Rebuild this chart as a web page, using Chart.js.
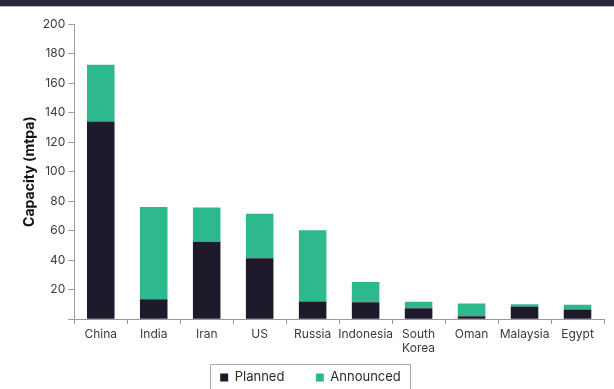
<!DOCTYPE html>
<html>
<head>
<meta charset="utf-8">
<script src="https://cdn.jsdelivr.net/npm/chart.js@4"></script>
<style>
  html, body { margin: 0; padding: 0; background: #fff; overflow: hidden; }
  #band { height: 6px; background: #28243a; border-bottom: 1px solid #b8b6c0; }
  #wrap { position: relative; width: 614px; height: 387px; }
</style>
</head>
<body>
<div id="band"></div>
<div id="wrap"><canvas id="capacityChart"></canvas></div>
<script>
const countries = ['China', 'India', 'Iran', 'US', 'Russia', 'Indonesia', ['South', 'Korea'], 'Oman', 'Malaysia', 'Egypt'];
const planned = [134, 13.6, 52.5, 41.3, 12, 11.4, 7.5, 2, 8.6, 6.6];
const announced = [38.4, 62.5, 23.1, 30.2, 48.2, 13.8, 4.3, 8.7, 1.6, 3.2];
const yTicks = [20, 40, 60, 80, 100, 120, 140, 160, 180, 200];

const fontFamily = 'Inter, "Open Sans", sans-serif';

// box round the legend, like the original
const legendBorder = {
    id: 'legendBorder',
    afterDraw(chart) {
        const boxes = chart.legend.legendHitBoxes;
        if (!boxes || !boxes.length) return;
        const left = Math.min(...boxes.map(b => b.left)) - 10;
        const right = Math.max(...boxes.map(b => b.left + b.width)) + 9;
        const top = boxes[0].top - 7;
        const ctx = chart.ctx;
        ctx.save();
        ctx.strokeStyle = '#a9a9ad';
        ctx.lineWidth = 1;
        ctx.beginPath();
        ctx.moveTo(Math.round(left) + 0.5, chart.height + 5);
        ctx.lineTo(Math.round(left) + 0.5, Math.round(top) + 0.5);
        ctx.lineTo(Math.round(right) + 0.5, Math.round(top) + 0.5);
        ctx.lineTo(Math.round(right) + 0.5, chart.height + 5);
        ctx.stroke();
        ctx.restore();
    }
};

const ctx = document.getElementById('capacityChart').getContext('2d');
new Chart(ctx, {
    type: 'bar',
    data: {
        labels: countries,
        datasets: [
            { label: 'Planned', data: planned, backgroundColor: '#1f1a2b' },
            { label: 'Announced', data: announced, backgroundColor: '#2db88e' }
        ]
    },
    options: {
        responsive: true,
        maintainAspectRatio: false,
        animation: false,
        layout: { padding: { top: 17, right: 10, left: 17, bottom: 0 } },
        datasets: { bar: { barPercentage: 0.52, categoryPercentage: 1.0 } },
        scales: {
            x: {
                stacked: true,
                grid: { display: true, drawOnChartArea: false, offset: true, tickLength: 5, color: '#9a9a9e' },
                border: { color: '#9a9a9e' },
                ticks: { color: '#3a3a3e', font: { family: fontFamily, size: 12 }, maxRotation: 0, autoSkip: false, padding: 3 }
            },
            y: {
                stacked: true,
                min: 0,
                max: 200,
                afterBuildTicks: axis => { axis.ticks = [0, ...yTicks].map(v => ({ value: v })); },
                grid: { display: true, drawOnChartArea: false, tickLength: 6, color: '#9a9a9e' },
                border: { color: '#9a9a9e' },
                ticks: {
                    color: '#3a3a3e',
                    font: { family: fontFamily, size: 12 },
                    padding: 3,
                    callback: v => v === 0 ? '' : v
                },
                title: {
                    display: true,
                    text: 'Capacity (mtpa)',
                    color: '#111',
                    font: { family: fontFamily, size: 14, weight: 'bold' },
                    padding: { bottom: 2 }
                }
            }
        },
        plugins: {
            legend: {
                position: 'bottom',
                labels: {
                    boxWidth: 8,
                    boxHeight: 8,
                    color: '#2a2a2e',
                    padding: 12,
                    font: { family: fontFamily, size: 13 },
                    generateLabels: chart => {
                        const items = Chart.defaults.plugins.legend.labels.generateLabels(chart);
                        // wider gap between the two entries
                        items.forEach((it, i) => { if (i < items.length - 1) it.text = it.text + '\u2003\u2002'; });
                        return items;
                    }
                }
            },
            tooltip: { enabled: false }
        }
    },
    plugins: [legendBorder]
});
</script>
</body>
</html>
